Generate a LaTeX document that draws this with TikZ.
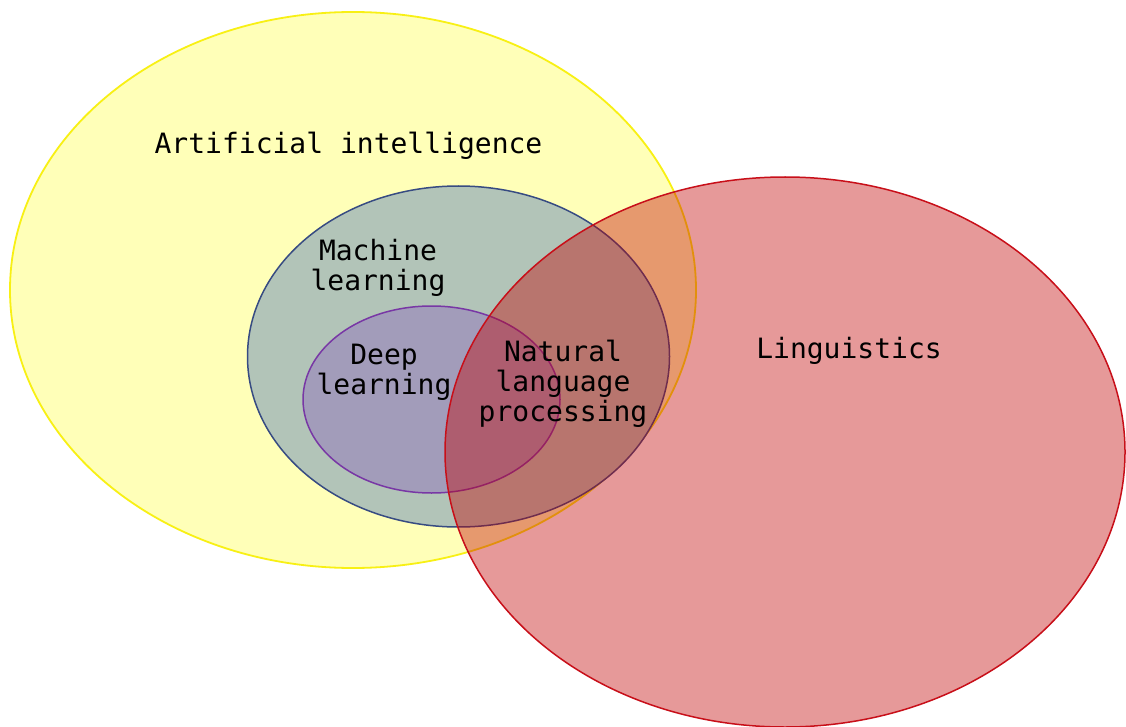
\documentclass[tikz,border=0pt]{standalone}
\usepackage{fontspec}
\newfontfamily\labelfont{DejaVu Sans Mono}
\definecolor{aifill}{RGB}{255,255,184}
\definecolor{aiedge}{RGB}{248,240,20}
\definecolor{mlfill}{RGB}{178,196,184}
\definecolor{mledge}{RGB}{55,75,130}
\definecolor{dlfill}{RGB}{162,156,186}
\definecolor{dledge}{RGB}{120,55,165}
\definecolor{lingfill}{RGB}{194,0,0}
\definecolor{lingedge}{RGB}{200,15,25}
\tikzset{
  setellipse/.style={line width=1.5pt},
  lbl/.style={font=\labelfont\fontsize{28}{30.2}\selectfont, text=black, inner sep=0pt, align=center}
}
\begin{document}
\begin{tikzpicture}[x=1pt,y=-1pt]
\useasboundingbox[fill=white] (0,0) rectangle (1126,727);
% Artificial intelligence
\path[setellipse, fill=aifill, draw=aiedge, line width=1.8pt] (353,290) ellipse [x radius=343, y radius=278];
% Machine learning
\path[setellipse, fill=mlfill, draw=mledge] (458.5,356.5) ellipse [x radius=211, y radius=170.5];
% Deep learning
\path[setellipse, fill=dlfill, draw=dledge] (431.5,399.5) ellipse [x radius=128.5, y radius=93.5];
% Linguistics
\path[setellipse, fill=lingfill, fill opacity=0.4, draw=lingedge] (785,452) ellipse [x radius=340, y radius=275];
% Labels
\node[lbl, anchor=base] (ai) at (348.5,154) {Artificial intelligence};
\node[lbl] (ml) at (378,268) {Machine\\learning};
\node[lbl] (dl) at (384,372.5) {Deep\\learning};
\node[lbl] (nlp) at (563,384) {Natural\\language\\processing};
\node[lbl, anchor=base] (ling) at (849,358) {Linguistics};
\end{tikzpicture}
\end{document}
